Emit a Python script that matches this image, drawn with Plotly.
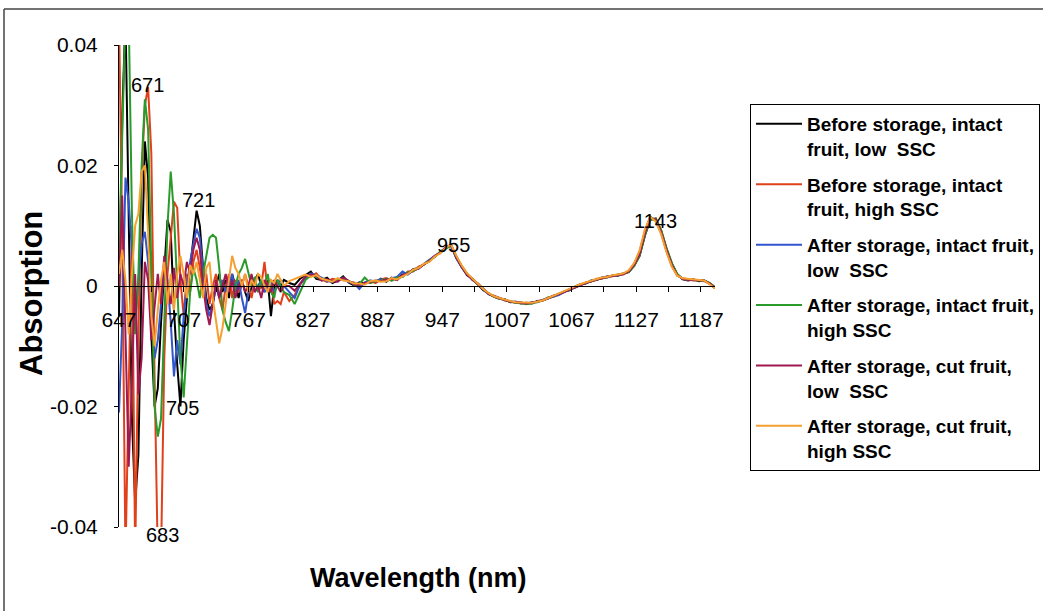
import plotly.graph_objects as go

# ---------------- data ----------------
# wavelength grid (nm): noisy visible region every 3 nm, NIR region every 5 nm
wl_vis = list(range(647, 801, 3))
wl_nir = list(range(805, 1201, 5))
wavelength = wl_vis + wl_nir

series_names = [
    "Before storage, intact<br>fruit, low  SSC",
    "Before storage, intact<br>fruit, high SSC",
    "After storage, intact fruit,<br>low  SSC",
    "After storage, intact fruit,<br>high SSC",
    "After storage, cut fruit,<br>low  SSC",
    "After storage, cut fruit,<br>high SSC",
]
series_colors = ["#000000", "#E0401A", "#3355CC", "#2A9A2A", "#A01850", "#F5A030"]

# absorption values in thousandths (x 1e-3)
black_vis = [-5, 28, 45, 12, -22, -36, -28, 2, 24, 18, -8, -20, -17, -6, 2, 11, 9, -4, -13, -20,
             -9, -2, 3, 8, 12.5, 10, 3, -2, -4, -3, 0, 2, -1, 1, -2, 2, 0, -2, 1, -1,
             -2.5, 0, 1, 2, 0, -1, 1, -5, 0, 1, 0, 1]
red_vis = [45, 8, -45, -15, 10, -45, -8, 18, 30, 33, 22, -15, -45, -45, -12, 2, 8, 14, 13, 1,
           -5, 2, -1, 4, 6, 3, -1, 2, -3, 0, 2, -2, -4, 0, 2, -2, 1, -1, 0, 2,
           0, -2, 1, -1, 0, 4, -1, 1, -3, -2.5, -3, -1]
blue_vis = [-21, -6, 18, 14, 6, -6, 1, 7, 9, 4, -5, -12, -9, -3, 3, 1, -6, -15, -9, -13,
            -5, 0, 4, 7, 9.5, 8, 3, -3, -5, -3, 0, -2, 1, -1, 0, 2, -1, 1, -2, -4.5,
            -1, 1, -1, 0, 1, -1, 0, 1, -1, 0, 1, 0]
green_vis = [5, 22, 45, 45, 12, -8, 2, 20, 31, 26, 2, -20, -25, -22, -6, 10, 19, 12, 0, -12,
             -18.5, -10, -1, 3, 1, -2, 2, 5, 8, 8.5, 8, 3, -4, -6, -7.5, -4, 0, 2, 3, 4.5,
             2, 0, 1.5, -1, 1, 0, 2, -1, -2, 1, 0, -1]
magenta_vis = [0, 15, -8, -30, -16, 2, -18, -12, 4, 1, -9, -4, 2, -3, 5, 0, -3, 3, -2, 2,
               0, 4, 2, 6, 8, 6, 0, -4, -6.5, -3, 1, -2, 0, 2, -1, 1, -2, 0, 1, -1,
               0, 2, -1, 0, -2, 1, 0, -1, 1, 0, -1, 0]
orange_vis = [2, 6, 1, -8, 2, 10, 12, 19, 20, 9, -5, -10, -4, 1, 4, -3, 2, -4, 2, 5,
              2, -2, 3.5, 2, 4, 1, -2, 3, 4, -2, -6, -9.5, -7, -3, 1, 5, 3, 2, 0, 2,
              -1, 1, 0, 2, 1.5, 0, -1, 1, 0.5, 2, 1, 0]

black_nir = [0.5, 0.2, 1.2, 1.8, 2.4, 1.2, 1.0, 1.4, 0.5, 0.9, 1.6, 0.6, 0.1, 0.6, 0.4, 0.8, 0.6, 1.2, 0.7, 1.4,
             1.0, 1.9, 2.0, 2.8, 3.0, 3.6, 4.2, 4.9, 5.6, 6.3, 6.7, 4.6, 3.1, 1.8, 1.2, 0.2, -0.7, -1.2, -1.8, -2.1,
             -2.2, -2.7, -2.6, -2.9, -2.8, -2.9, -2.5, -2.4, -2.1, -1.6, -1.4, -0.9, -0.7, -0.1, 0.3, 0.4, 0.9, 1.0, 1.4, 1.4,
             1.8, 1.7, 2.1, 2.3, 3.4, 5.0, 8.4, 11.0, 11.2, 9.2, 6.2, 3.7, 1.9, 1.1, 0.9, 1.1, 0.8, 0.9, 0.5, -0.2]
red_nir = [-2.5, -1.5, 0.2, 1.4, 1.6, 2.1, 1.1, 0.7, 1.2, 1.0, 1.2, 0.7, 0.6, -0.1, 0.5, 0.9, 0.5, 1.1, 1.3, 0.9,
           1.5, 1.5, 2.4, 2.4, 3.2, 3.6, 4.3, 4.9, 5.6, 6.3, 6.9, 4.9, 3.3, 2.0, 1.0, 0.4, -0.5, -1.3, -1.6, -2.0,
           -2.4, -2.5, -2.8, -2.7, -3.0, -2.7, -2.6, -2.3, -2.0, -1.8, -1.3, -1.0, -0.5, -0.3, 0.2, 0.6, 0.7, 1.2, 1.2, 1.6,
           1.6, 1.9, 1.9, 2.5, 3.7, 5.6, 9.2, 11.5, 10.8, 8.8, 5.8, 3.3, 1.7, 1.3, 1.1, 0.9, 1.0, 0.8, 0.4, -0.4]
blue_nir = [-1.0, -2.0, 0.3, 1.3, 2.1, 1.7, 1.4, 0.8, 0.7, 1.1, 1.3, 0.6, 0.5, -0.5, 0.6, 0.9, 0.8, 1.1, 0.9, 1.3,
            1.5, 2.4, 1.9, 2.6, 2.9, 3.7, 4.4, 5.0, 5.5, 6.2, 6.8, 4.7, 3.1, 2.0, 1.0, 0.4, -0.6, -1.4, -1.7, -1.9,
            -2.3, -2.6, -2.6, -2.8, -2.9, -2.7, -2.7, -2.3, -2.0, -1.7, -1.5, -1.0, -0.6, -0.2, 0.1, 0.5, 0.8, 1.1, 1.3, 1.6,
            1.7, 1.8, 2.0, 2.4, 3.6, 5.6, 9.0, 11.4, 11.0, 8.9, 5.9, 3.4, 1.8, 1.2, 1.0, 1.0, 0.9, 0.9, 0.4, -0.3]
green_nir = [-1.5, -3.0, -1.0, 1.0, 1.8, 1.5, 1.1, 1.0, 0.7, 1.2, 1.1, 0.9, 0.2, 0.3, 1.4, 0.5, 0.8, 0.9, 1.2, 0.9,
             1.4, 1.5, 2.3, 2.5, 3.0, 3.6, 4.2, 4.8, 5.7, 6.2, 6.7, 4.9, 3.3, 2.0, 1.2, 0.3, -0.5, -1.3, -1.8, -2.1,
             -2.4, -2.6, -2.8, -2.9, -3.0, -2.9, -2.6, -2.4, -1.9, -1.7, -1.3, -1.0, -0.6, -0.2, 0.2, 0.5, 0.8, 1.1, 1.3, 1.5,
             1.7, 1.8, 2.0, 2.3, 3.3, 5.0, 8.5, 11.0, 11.1, 9.3, 6.3, 3.8, 2.0, 1.2, 1.0, 1.0, 0.9, 0.9, 0.5, -0.2]
magenta_nir = [0.0, -0.8, 0.5, 1.6, 1.9, 1.7, 0.9, 1.1, 0.8, 0.7, 1.4, 0.9, 0.3, 0.2, 0.5, 0.6, 0.9, 0.8, 1.1, 1.2,
               1.0, 1.8, 2.1, 2.7, 2.9, 3.6, 4.1, 5.0, 5.5, 6.4, 6.8, 4.8, 3.2, 1.9, 1.1, 0.3, -0.6, -1.3, -1.7, -2.0,
               -2.3, -2.6, -2.7, -2.8, -2.9, -2.8, -2.6, -2.4, -2.0, -1.7, -1.4, -1.0, -0.6, -0.2, 0.2, 0.5, 0.8, 1.1, 1.3, 1.5,
               1.7, 1.8, 2.0, 2.4, 3.5, 5.3, 8.8, 11.3, 11.0, 9.0, 6.0, 3.5, 1.8, 1.2, 1.0, 1.0, 0.9, 0.9, 0.4, -0.3]
orange_nir = [0.8, 1.2, 1.6, 1.9, 1.5, 1.8, 1.2, 0.9, 0.7, 1.3, 0.9, 0.8, 0.4, 0.4, 0.2, 0.8, 0.9, 0.7, 0.8, 1.3,
              1.1, 1.6, 2.0, 2.7, 3.0, 3.7, 4.0, 4.9, 5.4, 6.3, 6.9, 5.0, 3.4, 2.1, 1.2, 0.4, -0.5, -1.2, -1.7, -2.0,
              -2.3, -2.5, -2.7, -2.7, -2.8, -2.8, -2.6, -2.4, -2.0, -1.6, -1.3, -0.9, -0.5, -0.1, 0.3, 0.6, 0.9, 1.2, 1.4, 1.5,
              1.8, 1.9, 2.1, 2.6, 3.8, 5.9, 9.4, 11.5, 10.7, 8.6, 5.6, 3.2, 1.7, 1.3, 1.2, 1.1, 1.0, 0.9, 0.3, -0.4]

series_values = [
    black_vis + black_nir,
    red_vis + red_nir,
    blue_vis + blue_nir,
    green_vis + green_nir,
    magenta_vis + magenta_nir,
    orange_vis + orange_nir,
]

peak_labels = ["671", "683", "705", "721", "955", "1143"]
peak_x = [673, 687, 705.5, 720.5, 957, 1144.5]
peak_y = [0.0334, -0.0414, -0.0202, 0.0142, 0.0068, 0.0108]

x_ticks = list(range(647, 1188, 60))
y_range = [-0.04, 0.04]
y_ticks = [-0.04, -0.02, 0, 0.02, 0.04]
y_ticktext = ["-0.04", "-0.02", "0", "0.02", "0.04"]

# ---------------- figure ----------------
W, H = 1046, 611
L, R, T, B = 119, 715, 45, 527  # plot area in pixels
FONT = "Liberation Sans, Arial, sans-serif"

def px(xpix):
    return (xpix - L) / (R - L)

def py(ypix):
    return (B - ypix) / (B - T)

def y_to_paper(v):
    return (v - y_range[0]) / (y_range[1] - y_range[0])

fig = go.Figure()
for name, color, vals in zip(series_names, series_colors, series_values):
    assert len(vals) == len(wavelength)
    fig.add_trace(go.Scatter(
        x=wavelength, y=[v / 1000 for v in vals], mode="lines", name=name,
        line=dict(color=color, width=2), legendgroup=name,
    ))

# peak labels (y in paper units so the one below the axis range stays visible)
for t, xv, yv in zip(peak_labels, peak_x, peak_y):
    fig.add_annotation(x=xv, y=y_to_paper(yv), xref="x", yref="paper", text=t, showarrow=False,
                       xanchor="center", yanchor="middle",
                       font=dict(family=FONT, size=20, color="#000"))

fig.add_annotation(xref="paper", yref="paper", x=px(418), y=py(578), text="<b>Wavelength (nm)</b>",
                   xanchor="center", yanchor="middle",
                   showarrow=False, font=dict(family=FONT, size=27, color="#000"))
fig.add_annotation(xref="paper", yref="paper", x=px(31), y=py(294), text="<b>Absorption</b>",
                   xanchor="center", yanchor="middle",
                   textangle=-90, showarrow=False, font=dict(family=FONT, size=31, color="#000"))

# outer chart border (top and left)
fig.add_shape(type="line", xref="paper", yref="paper", x0=px(4), x1=px(1043), y0=py(9), y1=py(9),
              line=dict(color="#444", width=1.5))
fig.add_shape(type="line", xref="paper", yref="paper", x0=px(4), x1=px(4), y0=py(9), y1=py(612),
              line=dict(color="#444", width=1.5))

fig.update_layout(
    width=W, height=H,
    margin=dict(l=L, r=W - R, t=T, b=H - B, autoexpand=False),
    paper_bgcolor="white", plot_bgcolor="white",
    font=dict(family=FONT, color="#000"),
    showlegend=True,
    legend=dict(
        x=px(750), y=py(104), xanchor="left", yanchor="top",
        bordercolor="#000", borderwidth=1, bgcolor="white",
        font=dict(family=FONT, size=19, color="#000", weight="bold"),
        valign="top", tracegroupgap=8, itemwidth=46,
    ),
    xaxis=dict(
        range=[647, 1200], anchor="free", position=0.5,
        showline=True, linecolor="#000", linewidth=1,
        tickvals=x_ticks, ticks="outside", ticklen=5, tickcolor="#000",
        minor=dict(tickvals=list(range(677, 1200, 60)), ticks="outside", ticklen=5, tickcolor="#000"),
        showgrid=False, zeroline=False,
        tickfont=dict(family=FONT, size=21, color="#000"), ticklabelstandoff=10,
    ),
    yaxis=dict(
        range=y_range, showline=True, linecolor="#000", linewidth=1,
        tickvals=y_ticks, ticktext=y_ticktext, ticks="outside", ticklen=4, tickcolor="#000",
        showgrid=False, zeroline=False,
        tickfont=dict(family=FONT, size=21, color="#000"), ticklabelstandoff=12,
    ),
)

fig.write_html("out.html")
